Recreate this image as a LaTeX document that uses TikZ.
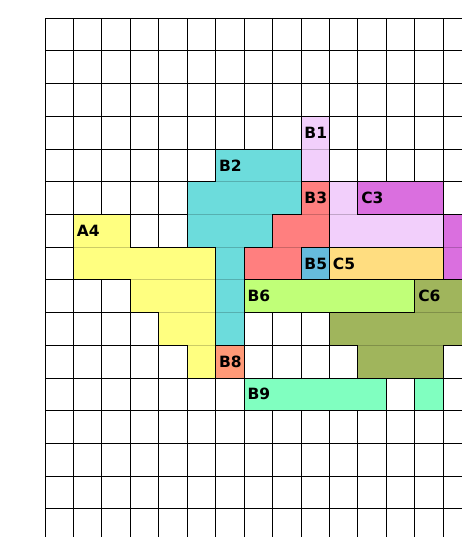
\documentclass[tikz,border=0pt]{standalone}
\usepackage{fontspec}
\setmainfont{DejaVu Sans}
\definecolor{cteal}{HTML}{6CDCDC}
\definecolor{cred}{HTML}{FF7F7F}
\definecolor{cpink}{HTML}{F2CFFB}
\definecolor{cpurple}{HTML}{DA6FDF}
\definecolor{cyellow}{HTML}{FFFF80}
\definecolor{cblue}{HTML}{66BBDD}
\definecolor{corange}{HTML}{FFDD80}
\definecolor{clime}{HTML}{C0FF78}
\definecolor{colive}{HTML}{A0B55C}
\definecolor{csalmon}{HTML}{FF9977}
\definecolor{caqua}{HTML}{80FFC0}
\tikzset{
  gridline/.style={draw=black,line width=1pt},
  faintgrid/.style={draw=black,draw opacity=0.2,line width=1pt},
  region/.style={draw=black,line width=1pt,line join=miter},
  lbl/.style={anchor=west,inner sep=0pt,xshift=3.2pt,font=\fontsize{15.5}{15.5}\selectfont\bfseries}
}
\begin{document}
\begin{tikzpicture}[x=1pt,y=-1pt]
\useasboundingbox (0,0) rectangle (462,537);
\clip (0,0) rectangle (462,537);
\begin{scope}[shift={(45pt,-18.3pt)},x=28.45pt,y=-32.7pt]
  % grid
  \foreach \c in {0,...,14} \draw[gridline] (\c,0) -- (\c,16.5);
  \foreach \r in {0,...,15} \draw[gridline] (0,\r) -- (15.5,\r);
  % fills
  \fill[cyellow] (1,6) -- (3,6) -- (3,7) -- (6,7) -- (6,11) -- (5,11) -- (5,10) -- (4,10) -- (4,9) -- (3,9) -- (3,8) -- (1,8) -- cycle;
  \fill[cteal] (6,4) -- (9,4) -- (9,6) -- (8,6) -- (8,7) -- (7,7) -- (7,10) -- (6,10) -- (6,7) -- (5,7) -- (5,5) -- (6,5) -- cycle;
  \fill[cred] (9,5) -- (10,5) -- (10,7) -- (9,7) -- (9,8) -- (7,8) -- (7,7) -- (8,7) -- (8,6) -- (9,6) -- cycle;
  \fill[cpink] (9,3) rectangle (10,5);
  \fill[cpink] (10,5) -- (11,5) -- (11,6) -- (14,6) -- (14,7) -- (10,7) -- cycle;
  \fill[cpurple] (11,5) rectangle (14,6);
  \fill[cpurple] (14,6) rectangle (15.5,8);
  \fill[cblue] (9,7) rectangle (10,8);
  \fill[corange] (10,7) rectangle (14,8);
  \fill[clime] (7,8) rectangle (13,9);
  \fill[colive] (13,8) -- (15.5,8) -- (15.5,10) -- (14,10) -- (14,11) -- (11,11) -- (11,10) -- (10,10) -- (10,9) -- (13,9) -- cycle;
  \fill[csalmon] (6,10) rectangle (7,11);
  \fill[caqua] (7,11) rectangle (12,12);
  \fill[caqua] (13,11) rectangle (14,12);
  % faint row lines inside regions
  \foreach \r in {0,...,15} \draw[faintgrid] (0,\r) -- (15.5,\r);
  % outlines
  \draw[region] (1,6) -- (3,6) -- (3,7) -- (6,7) -- (6,11) -- (5,11) -- (5,10) -- (4,10) -- (4,9) -- (3,9) -- (3,8) -- (1,8) -- cycle;
  \draw[region] (6,4) -- (9,4) -- (9,6) -- (8,6) -- (8,7) -- (7,7) -- (7,10) -- (6,10) -- (6,7) -- (5,7) -- (5,5) -- (6,5) -- cycle;
  \draw[region] (9,5) -- (10,5) -- (10,7) -- (9,7) -- (9,8) -- (7,8) -- (7,7) -- (8,7) -- (8,6) -- (9,6) -- cycle;
  \draw[region] (9,3) rectangle (10,5);
  \draw[region] (10,5) -- (11,5) -- (11,6) -- (14,6) -- (14,7) -- (10,7) -- cycle;
  \draw[region] (11,5) rectangle (14,6);
  \draw[region] (14,6) rectangle (15.5,8);
  \draw[region] (9,7) rectangle (10,8);
  \draw[region] (10,7) rectangle (14,8);
  \draw[region] (7,8) rectangle (13,9);
  \draw[region] (13,8) -- (15.5,8) -- (15.5,10) -- (14,10) -- (14,11) -- (11,11) -- (11,10) -- (10,10) -- (10,9) -- (13,9) -- cycle;
  \draw[region] (6,10) rectangle (7,11);
  \draw[region] (7,11) rectangle (12,12);
  \draw[region] (13,11) rectangle (14,12);
  % labels
  \node[lbl] (A4) at (1,6.5) {A4};
  \node[lbl] (B1) at (9,3.5) {B1};
  \node[lbl] (B2) at (6,4.5) {B2};
  \node[lbl] (B3) at (9,5.5) {B3};
  \node[lbl] (C3) at (11,5.5) {C3};
  \node[lbl] (B5) at (9,7.5) {B5};
  \node[lbl] (C5) at (10,7.5) {C5};
  \node[lbl] (B6) at (7,8.5) {B6};
  \node[lbl] (C6) at (13,8.5) {C6};
  \node[lbl] (B8) at (6,10.5) {B8};
  \node[lbl] (B9) at (7,11.5) {B9};
\end{scope}
\end{tikzpicture}
\end{document}
